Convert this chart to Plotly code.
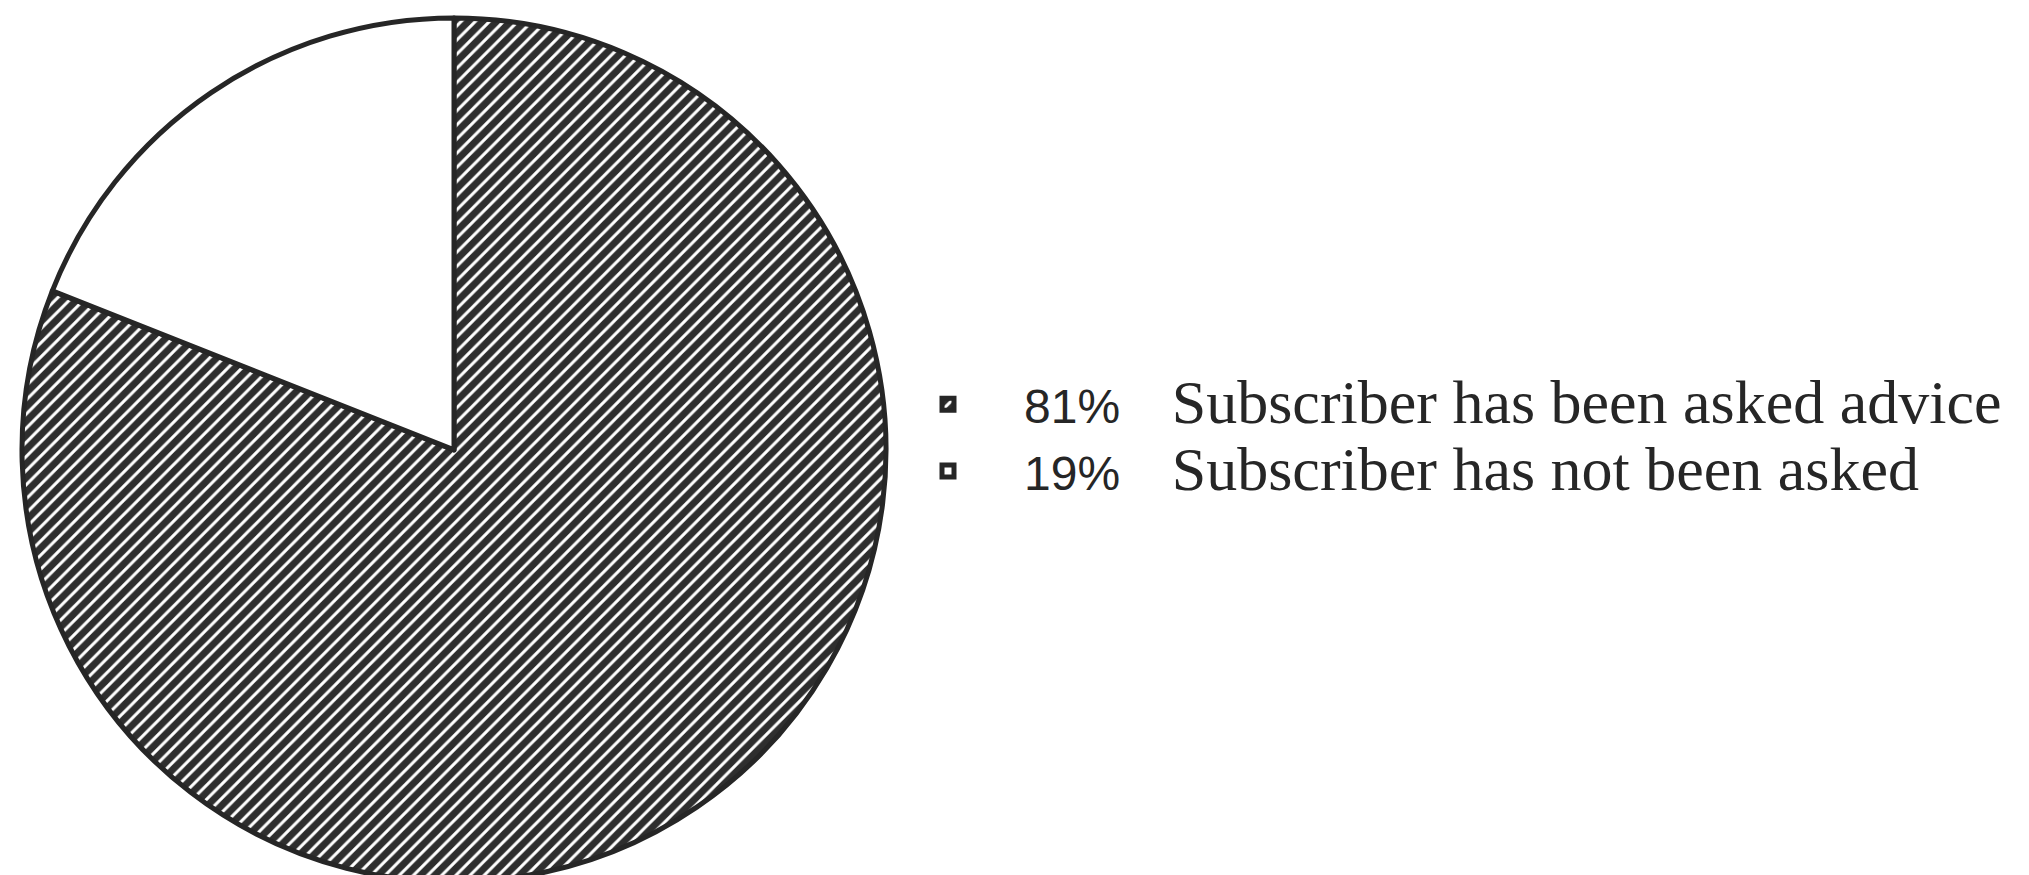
import plotly.graph_objects as go

# ---- data ----
labels = ["Subscriber has been asked advice", "Subscriber has not been asked"]
values = [81, 19]
slice_colors = ["#2e2e2e", "#ffffff"]
pattern_shapes = ["/", ""]

SANS = "Liberation Sans"
SERIF = "Liberation Serif"
NB = "\u00a0"

legend_names = [
    f'<span style="font-family:{SANS};font-size:48px">{v}%</span>'
    f'<span style="font-family:{SERIF};font-size:62px">{NB*3}\u200a{lab}</span>'
    for v, lab in zip(values, labels)
]

fig = go.Figure(
    go.Pie(
        labels=legend_names,
        values=values,
        sort=False,
        direction="clockwise",
        rotation=0,
        textinfo="none",
        hoverinfo="label+percent",
        marker=dict(
            colors=slice_colors,
            line=dict(color="#262626", width=5),
            pattern=dict(
                shape=pattern_shapes,
                fgcolor=["#ffffff", "#ffffff"],
                bgcolor=slice_colors,
                size=10,
                solidity=0.3,
                fillmode="replace",
            ),
        ),
        domain=dict(x=[14 / 2029, 878 / 2029], y=[0.0, 0.99]),
        showlegend=True,
    )
)

fig.update_layout(
    width=2029,
    height=875,
    margin=dict(l=0, r=0, t=0, b=0),
    paper_bgcolor="white",
    plot_bgcolor="white",
    legend=dict(
        x=864 / 2029,
        y=0.5086,
        xanchor="left",
        yanchor="middle",
        font=dict(family=SERIF, size=49, color="#262626"),
        itemwidth=142,
        bgcolor="rgba(0,0,0,0)",
    ),
)

fig.write_html("out.html")
